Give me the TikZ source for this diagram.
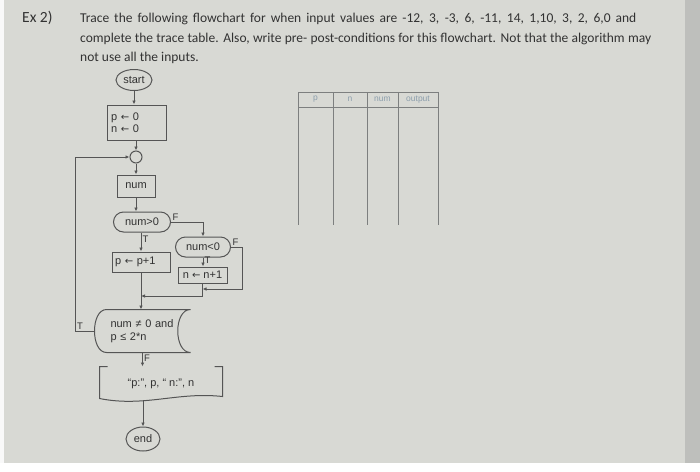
\documentclass[tikz,border=0pt]{standalone}
\usepackage{fontspec}
\setmainfont{Carlito}
\newfontfamily\chartfont{Liberation Sans}
\newfontfamily\symfont{DejaVu Sans}
\newcommand{\larr}{{\symfont\fontsize{10}{11}\selectfont←}}
\usepackage{tikz}
\usetikzlibrary{shapes.geometric, shapes.misc, arrows.meta}
\definecolor{photobg}{RGB}{216, 217, 212}
\definecolor{photoedge}{RGB}{190, 191, 188}
\definecolor{inkline}{RGB}{85, 85, 85}
\definecolor{inktext}{RGB}{50, 50, 50}
\definecolor{tabline}{RGB}{125, 127, 127}
\definecolor{tabhead}{RGB}{140, 158, 172}

\tikzset{
	fc/.style={draw=inkline, line width=1pt, text=inktext, font=\chartfont\fontsize{11}{12.5}\selectfont, inner sep=2pt},
	term/.style={fc, ellipse, inner sep=0pt},
	procbox/.style={fc, rectangle},
	testbox/.style={fc, rounded rectangle, inner sep=1pt},
	shapeline/.style={draw=inkline, line width=1pt},
	flow/.style={inkline, line width=1pt, -{Latex[length=4pt, width=3.5pt]}},
	lbl/.style={text=inktext, font=\chartfont\fontsize{9.5}{10}\selectfont, inner sep=1pt},
	title/.style={text=inktext, font=\fontsize{13.5}{15}\selectfont, inner sep=0pt, anchor=base west},
	thead/.style={text=tabhead, font=\chartfont\fontsize{8.5}{9}\selectfont, inner sep=0pt},
}

\begin{document}
\begin{tikzpicture}[x=1pt, y=-1pt]
			\useasboundingbox (0,0) rectangle (700,471);

			% --- photo background ---
			\fill[photobg] (0,0) rectangle (700,471);
			\fill[photoedge] (685,0) rectangle (700,463);
			\fill[white] (0,463) rectangle (700,471);
			\fill[white!85!photobg] (0,0) rectangle (4,463);

			% --- question text ---
			\node[title, font=\fontsize{15.5}{16}\selectfont] (exno) at (22,22) {Ex 2)};
			\node[title] (line1) at (80,22) {\makebox[556pt][s]{Trace the following flowchart for when input values are -12, 3, -3, 6, -11, 14, 1,10, 3, 2, 6,0 and}};
			\node[title] (line2) at (80,42) {\makebox[571pt][s]{complete the trace table. Also, write pre- post-conditions for this flowchart. Not that the algorithm may}};
			\node[title] (line3) at (80,61) {not use all the inputs.};

			% --- flowchart nodes ---
			\node[term, minimum width=36pt, minimum height=21pt] (start) at (134,80) {start};
			\node[procbox, minimum width=59pt, minimum height=35pt, text width=51pt, align=left] (init) at (136.5,122.5) {p \larr{} 0\\n \larr{} 0};
			\node[fc, circle, minimum size=12pt, inner sep=0pt] (join) at (136,157) {};
			\node[procbox, minimum width=38pt, minimum height=22pt] (numin) at (136,186) {num};
			\node[testbox, minimum width=59pt, minimum height=20pt] (pos) at (142,222) {num>0};
			\node[procbox, minimum width=58pt, minimum height=20pt, text width=52pt, align=left, inner sep=1pt] (pinc) at (141,262) {p \larr{} p+1};
			\node[testbox, minimum width=57pt, minimum height=20pt] (neg) at (203,247) {num<0};
			\node[procbox, minimum width=49pt, minimum height=16pt, inner sep=1pt] (ninc) at (202.5,275) {n \larr{} n+1};
			\node[fc, draw=none, minimum width=95pt, minimum height=42pt, text width=64pt, align=left] (cond) at (142.5,331) {num ≠ 0 and\\p ≤ 2*n};
			\node[fc, draw=none, minimum width=122pt, minimum height=33pt] (out) at (161,383.5) {“p:”, p, “ n:”, n};
			\node[term, minimum width=34pt, minimum height=24pt] (stop) at (143,439) {end};

			% --- shapes drawn round the text ---
			\draw[shapeline] ([xshift=12pt]cond.north west) -- (cond.north east)
				.. controls ([xshift=-17pt]cond.north east) and ([xshift=-17pt]cond.south east) .. (cond.south east)
				-- ([xshift=12pt]cond.south west)
				.. controls ([xshift=-4pt]cond.south west) and ([xshift=-4pt]cond.north west) .. cycle;
			\draw[shapeline] ([xshift=8pt]out.north west) -- (out.north west) -- ([yshift=2pt]out.south west)
				.. controls ([xshift=45pt, yshift=-7pt]out.south west) and ([xshift=-45pt, yshift=9pt]out.south east) .. ([yshift=4pt]out.south east)
				-- (out.north east) -- ([xshift=-8pt]out.north east);

			% --- connectors ---
			\coordinate (fcorner) at (242,289);
			\coordinate (merge) at (141,296);
			\draw[flow] (start.south) -- (start.south |- init.north);
			\draw[flow] (init.south -| join) -- (join.north);
			\draw[flow] (join.south) -- (numin.north);
			\draw[flow] (numin.south) -- (numin.south |- pos.north);
			\draw[flow] (pos.south -| pinc) -- (pinc.north) node[lbl, pos=0.35, right] {T};
			\draw[flow] (pos.east) node[lbl, above right] {F} -| (neg.north);
			\draw[flow] (neg.south) -- (neg.south |- ninc.north) node[lbl, pos=0.3, right] {T};
			\draw[flow] (neg.east) node[lbl, above right] {F} -| (fcorner) -- (fcorner -| ninc.south);
			\draw[flow] (ninc.south) |- (merge);
			\draw[shapeline] (pinc.south) -- (merge);
			\draw[flow] (merge) -- (merge |- cond.north);
			\draw[flow] (cond.west) -- ++(-19,0) node[lbl, above right] {T} |- (join.west);
			\draw[flow] (cond.south) -- (cond.south |- out.north) node[lbl, pos=0.4, right] {F};
			\draw[flow] (stop |- out.south) -- (stop.north);

			% --- trace table ---
			\draw[tabline, line width=0.9pt] (298,92) -- (438,92);
			\draw[tabline, line width=0.9pt] (298,107) -- (438,107);
			\foreach \x in {298,333,367,398,438} {
				\draw[tabline, line width=0.9pt] (\x,92) -- (\x,225);
			}
			\foreach \x/\t in {315.5/p, 350/n, 382.5/num, 418/output} {
				\node[thead] (head-\t) at (\x,99.5) {\t};
			}

		\end{tikzpicture}
\end{document}
